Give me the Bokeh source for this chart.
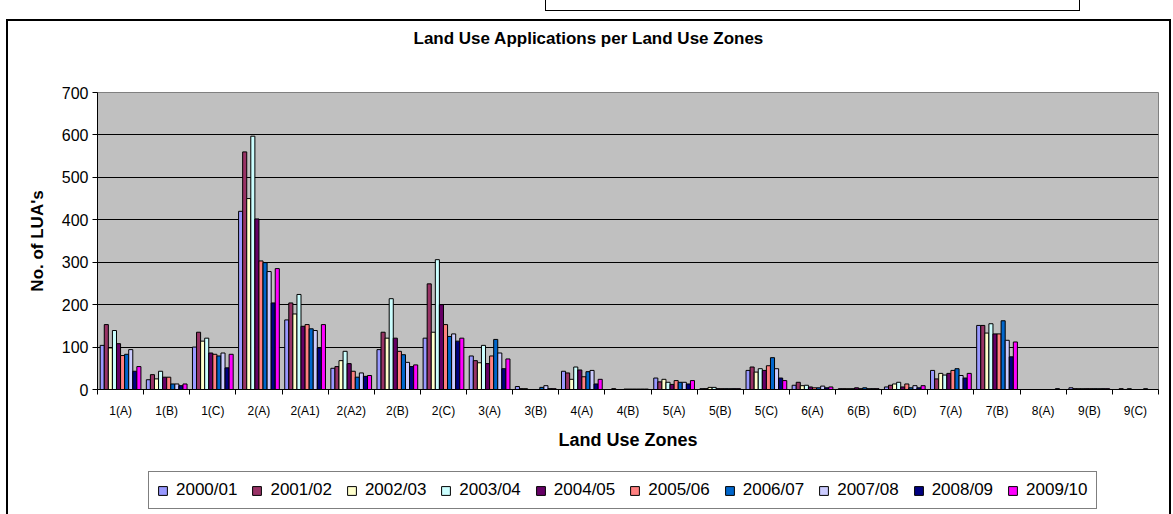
from bokeh.plotting import figure
from bokeh.layouts import column
from bokeh.models import (Range1d, FixedTicker, Legend, LegendItem, LinearAxis,
                          ColumnDataSource, InlineStyleSheet)
from bokeh.embed import file_html
from bokeh.resources import INLINE

zones = ["1(A)", "1(B)", "1(C)", "2(A)", "2(A1)", "2(A2)", "2(B)", "2(C)",
         "3(A)", "3(B)", "4(A)", "4(B)", "5(A)", "5(B)", "5(C)", "6(A)",
         "6(B)", "6(D)", "7(A)", "7(B)", "8(A)", "9(B)", "9(C)"]

series_names = ["2000/01", "2001/02", "2002/03", "2003/04", "2004/05",
                "2005/06", "2006/07", "2007/08", "2008/09", "2009/10"]

s2000_01 = [104, 23, 100, 420, 164, 50, 94, 121, 79, 7, 43, 0, 27, 2, 45, 10, 2, 6, 45, 151, 0, 4, 0]
s2001_02 = [153, 35, 135, 560, 204, 54, 135, 249, 68, 2, 39, 2, 18, 2, 53, 17, 2, 10, 25, 151, 0, 2, 2]
s2002_03 = [98, 25, 114, 450, 178, 68, 121, 135, 63, 2, 24, 0, 24, 5, 41, 9, 2, 13, 38, 133, 0, 2, 0]
s2003_04 = [139, 43, 121, 597, 224, 90, 214, 306, 104, 0, 53, 0, 17, 5, 49, 10, 2, 17, 34, 155, 0, 2, 2]
s2004_05 = [108, 29, 86, 402, 149, 61, 121, 200, 61, 0, 46, 1, 12, 2, 45, 6, 4, 6, 38, 131, 0, 2, 0]
s2005_06 = [80, 29, 83, 303, 153, 43, 90, 153, 79, 0, 30, 1, 21, 2, 56, 4, 2, 13, 45, 131, 0, 2, 0]
s2006_07 = [83, 13, 79, 299, 143, 29, 82, 125, 118, 5, 42, 1, 17, 2, 75, 4, 4, 4, 49, 162, 0, 2, 0]
s2007_08 = [94, 13, 86, 278, 139, 39, 64, 131, 86, 9, 45, 1, 17, 2, 49, 8, 2, 9, 33, 116, 0, 2, 2]
s2008_09 = [43, 9, 51, 204, 98, 31, 54, 114, 49, 2, 13, 1, 13, 2, 27, 4, 2, 4, 27, 77, 2, 2, 0]
s2009_10 = [54, 13, 83, 285, 153, 33, 58, 121, 72, 2, 24, 1, 21, 2, 21, 6, 2, 9, 38, 112, 0, 2, 0]

series_values = [s2000_01, s2001_02, s2002_03, s2003_04, s2004_05,
                 s2005_06, s2006_07, s2007_08, s2008_09, s2009_10]

colors = ["#9999FF", "#993366", "#FFFFCC", "#CCFFFF", "#660066",
          "#FF8080", "#0066CC", "#CCCCFF", "#000080", "#FF00FF"]

y_ticks = [0, 100, 200, 300, 400, 500, 600, 700]

FONT = "Liberation Sans"
W = 1173
H_MAIN, H_LEG = 466, 48
FL, FR, FT, FB = 97, 15, 92, 77

n = len(zones)
p = figure(width=W, height=H_MAIN, output_backend="svg", toolbar_location=None,
           x_range=Range1d(0, n), y_range=Range1d(0, 700),
           min_border_left=FL, min_border_right=FR,
           min_border_top=FT, min_border_bottom=FB)
p.background_fill_color = "#C0C0C0"
p.border_fill_color = "white"
p.outline_line_color = "#808080"
p.xgrid.grid_line_color = None
p.ygrid.grid_line_color = "black"
p.ygrid.grid_line_width = 1

# x axis (the one below): labels under the categories, ticks on category borders
centers = [i + 0.5 for i in range(n)]
bounds = list(range(n + 1))
xa = p.below[0]
xa.ticker = FixedTicker(ticks=centers, minor_ticks=bounds)
xa.major_label_overrides = {c: z for c, z in zip(centers, zones)}
xa.major_tick_line_color = None
xa.major_tick_out = 5
xa.minor_tick_line_color = "black"
xa.minor_tick_out = 5
xa.minor_tick_in = 0
xa.axis_line_color = "black"
xa.major_label_text_font = FONT
xa.major_label_text_font_size = "12px"
xa.major_label_text_color = "black"
xa.major_label_standoff = 9
xa.axis_label = "Land Use Zones"
xa.axis_label_text_font = FONT
xa.axis_label_text_font_style = "bold"
xa.axis_label_text_font_size = "18px"
xa.axis_label_text_color = "black"
xa.axis_label_standoff = 9

# y axis
ya = p.left[0]
ya.ticker = FixedTicker(ticks=y_ticks)
ya.major_tick_in = 0
ya.major_tick_out = 5
ya.major_tick_line_color = "black"
ya.minor_tick_line_color = None
ya.axis_line_color = "black"
ya.major_label_text_font = FONT
ya.major_label_text_font_size = "16px"
ya.major_label_text_color = "black"
ya.major_label_standoff = 4
ya.axis_label = "No. of LUA's"
ya.axis_label_text_font = FONT
ya.axis_label_text_font_style = "bold"
ya.axis_label_text_font_size = "17px"
ya.axis_label_text_color = "black"
ya.axis_label_standoff = 12

# empty spacer between plot area and chart title
spacer_top = LinearAxis(ticker=FixedTicker(ticks=[]), axis_line_color=None,
                        major_tick_out=0, major_tick_in=0, minor_tick_out=0,
                        minor_tick_in=0, major_label_standoff=0,
                        axis_label=" ", axis_label_text_font_size="10px",
                        axis_label_standoff=26)
p.add_layout(spacer_top, "above")

# chart title
p.title.text = "Land Use Applications per Land Use Zones"
p.title.align = "left"
p.title.offset = 316
p.title.standoff = 10
p.title.text_font = FONT
p.title.text_font_style = "bold"
p.title.text_font_size = "17px"
p.title.text_color = "black"

# bars
bw = 0.0883
sources = []
for j, (name, vals, col) in enumerate(zip(series_names, series_values, colors)):
    xs = [i + 0.5 + (j - 4.5) * bw for i in range(n)]
    src = ColumnDataSource(dict(x=xs, top=vals))
    sources.append(src)
    p.vbar(x="x", top="top", width=bw, source=src, fill_color=col,
           line_color="black", line_width=1)

# legend strip (its own small figure so nothing is clipped); its renderers
# share the bar data but are muted to full transparency, so only the legend shows
p2 = figure(width=W, height=H_LEG, output_backend="svg", toolbar_location=None,
            x_range=Range1d(0, n), y_range=Range1d(-2, -1),
            x_axis_location=None, y_axis_location=None,
            min_border_left=FL, min_border_right=FR, min_border_top=0, min_border_bottom=0)
p2.outline_line_color = None
p2.background_fill_color = "white"
p2.border_fill_color = "white"
p2.grid.grid_line_color = None
leg_renderers = []
for src, col in zip(sources, colors):
    leg_renderers.append(p2.vbar(x="x", top="top", width=bw, source=src,
                                 fill_color=col, line_color="black", line_width=1,
                                 muted_alpha=0, muted=True))
items = [LegendItem(label=nm, renderers=[r]) for nm, r in zip(series_names, leg_renderers)]
legend = Legend(items=items, orientation="horizontal", location=(148 - FL, 5),
                click_policy="none",
                border_line_color="black", border_line_width=1,
                background_fill_color="white", background_fill_alpha=1,
                label_text_font=FONT, label_text_font_size="17px",
                label_text_color="black",
                glyph_width=11, glyph_height=11, label_standoff=8, spacing=14,
                padding=8, margin=0, label_height=19)
p2.add_layout(legend)

layout = column(p, p2, spacing=0)

# chart-area border and the cut-off box at the very top
layout.stylesheets = [InlineStyleSheet(css="""
:host { position: relative; }
:host::after { content: ""; position: absolute; left: 6px; top: 19px;
  width: 1161px; height: 493px; border: 2px solid black; border-bottom: none;
  pointer-events: none; z-index: 10; }
:host::before { content: ""; position: absolute; left: 545px; top: -5px;
  width: 533px; height: 15px; border: 1px solid black; border-top: none;
  pointer-events: none; z-index: 10; }
""")]

open("out.html", "w").write(file_html(layout, INLINE))
